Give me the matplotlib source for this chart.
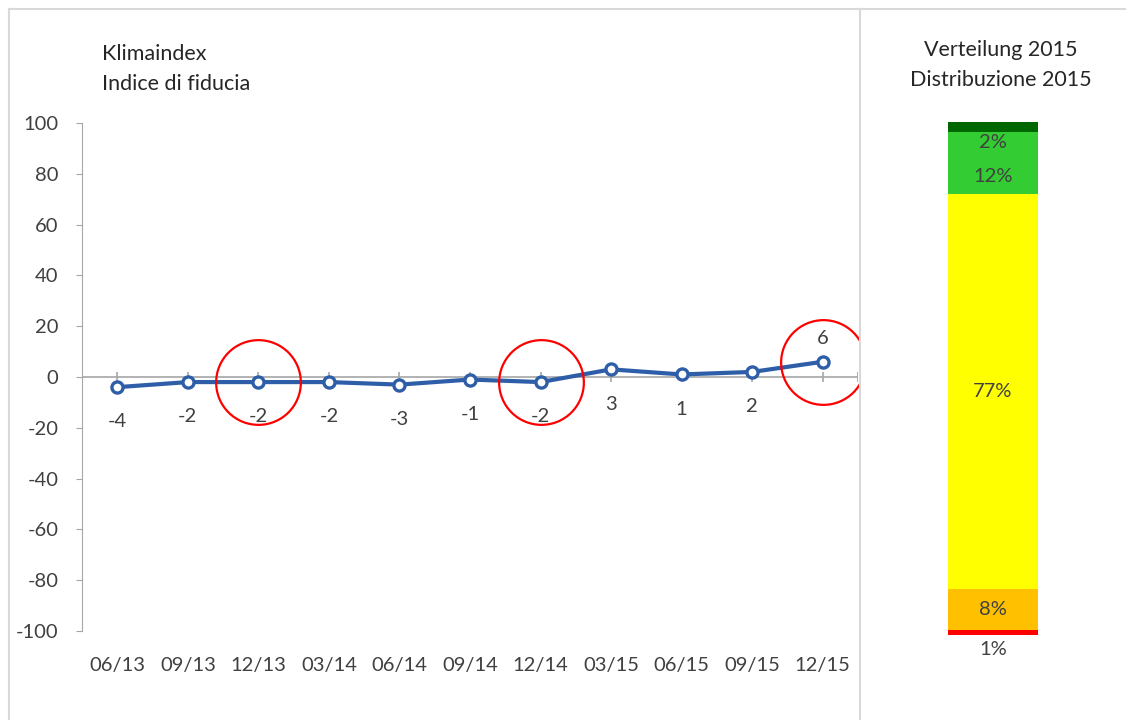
import matplotlib
matplotlib.use("Agg")
import matplotlib.pyplot as plt
from matplotlib.lines import Line2D

plt.rcParams['font.family'] = ['Lato', 'DejaVu Sans']
plt.rcParams['axes.unicode_minus'] = False

# quarterly climate index
quarters = ["06/13", "09/13", "12/13", "03/14", "06/14", "09/14",
            "12/14", "03/15", "06/15", "09/15", "12/15"]
index_values = [-4, -2, -2, -2, -3, -1, -2, 3, 1, 2, 6]
highlighted = [2, 6, 10]

# distribution 2015, bottom to top
dist_labels = ["1%", "8%", "77%", "12%", "2%"]
dist_values = [1, 8, 77, 12, 2]
dist_colors = ["#FF0000", "#FFC000", "#FFFF00", "#33CC33", "#006600"]

LINE_BLUE = "#2E5EA8"
TEXT = "#404040"
TITLE = "#262626"
AXIS_GRAY = "#A6A6A6"
FS = 14.5

fig = plt.figure(figsize=(11.26, 7.2), dpi=100)

# --- line chart ---
ax = fig.add_axes([82 / 1126, 1 - 631 / 720, 776 / 1126, 508 / 720])
x = list(range(len(quarters)))
ax.set_xlim(-0.5, len(quarters) - 0.5)
ax.set_ylim(-100, 100)
ax.set_yticks(range(-100, 101, 20))
ax.set_xticks(x)
ax.set_xticklabels(quarters)
for s in ("top", "right", "bottom"):
    ax.spines[s].set_visible(False)
ax.spines["left"].set_color(AXIS_GRAY)
ax.tick_params(axis="y", length=4, color=AXIS_GRAY, pad=13, labelsize=FS, labelcolor=TEXT)
ax.tick_params(axis="x", length=0, pad=19, labelsize=FS, labelcolor=TEXT)

ax.axhline(0, color=AXIS_GRAY, lw=1.2, zorder=1)
ax.vlines(x + [len(quarters) - 0.5], -2, 2, color=AXIS_GRAY, lw=1.2, zorder=1)

ax.plot(x, index_values, color=LINE_BLUE, lw=3, marker="o", ms=8,
        mfc="white", mec=LINE_BLUE, mew=2.4, zorder=3)

for i, v in enumerate(index_values):
    above = i == len(index_values) - 1
    ax.annotate(f"{v}", (i, v), xytext=(0, 17 if above else -25),
                textcoords="offset points", ha="center", va="center",
                fontsize=FS, color=TEXT)

ax.plot([x[i] for i in highlighted], [index_values[i] for i in highlighted],
        ls="none", marker="o", ms=61, mfc="none", mec="red", mew=1.6, zorder=4)

fig.text(102 / 1126, 1 - 54 / 720, "Klimaindex", fontsize=15.5, color=TITLE, va="center")
fig.text(102 / 1126, 1 - 84 / 720, "Indice di fiducia", fontsize=15.5, color=TITLE, va="center")

# --- distribution bar ---
bx = fig.add_axes([948 / 1126, 1 - 635 / 720, 90 / 1126, 513 / 720])
bx.set_xlim(0, 1)
bx.set_ylim(0, 100)
bx.axis("off")
bottom = 0
centers = []
for v, c in zip(dist_values, dist_colors):
    bx.bar(0.5, v, width=1, bottom=bottom, color=c, edgecolor="none")
    centers.append(bottom + v / 2)
    bottom += v

# pixel offsets keep the small segments' labels from colliding
label_offsets = [-12, 0, 0, -10, -11]
for lab, cy, off in zip(dist_labels, centers, label_offsets):
    bx.annotate(lab, (0.5, cy), xytext=(0, off), textcoords="offset points",
                ha="center", va="center", fontsize=FS, color=TEXT)

fig.text(1001 / 1126, 1 - 50 / 720, "Verteilung 2015", fontsize=15.5, color=TITLE,
         ha="center", va="center")
fig.text(1001 / 1126, 1 - 80 / 720, "Distribuzione 2015", fontsize=15.5, color=TITLE,
         ha="center", va="center")

# panel frame
frame = "#D9D9D9"
fig.add_artist(Line2D([9 / 1126, 1], [1 - 9 / 720] * 2, color=frame, lw=1.5))
fig.add_artist(Line2D([9 / 1126] * 2, [0, 1 - 9 / 720], color=frame, lw=1.5))
fig.add_artist(Line2D([860 / 1126] * 2, [0, 1 - 9 / 720], color=frame, lw=1.5))

fig.savefig("out.png", dpi=100)
